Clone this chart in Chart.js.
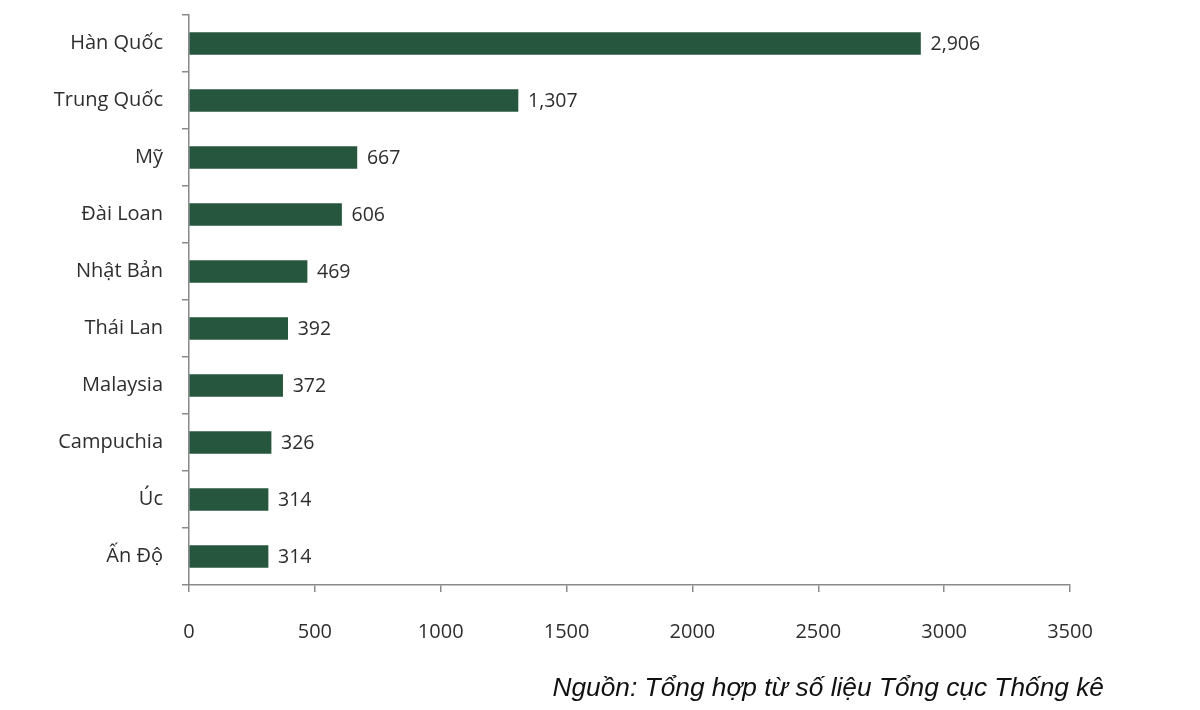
<!DOCTYPE html>
<html><head><meta charset="utf-8">
<script src="https://cdn.jsdelivr.net/npm/chart.js@4"></script>
<style>
html,body{margin:0;padding:0;background:#fff;}
#wrap{position:relative;width:1200px;height:710px;}
#src{position:absolute;right:96px;top:672px;font-family:"Liberation Sans",Arial,sans-serif;font-style:italic;font-size:26.3px;line-height:30px;color:#111;white-space:nowrap;}
</style></head>
<body>
<div id="wrap"><canvas id="c" width="1200" height="710"></canvas>
<div id="src">Nguồn: Tổng hợp từ số liệu Tổng cục Thống kê</div></div>
<script>
const categories = ["Hàn Quốc","Trung Quốc","Mỹ","Đài Loan","Nhật Bản","Thái Lan","Malaysia","Campuchia","Úc","Ấn Độ"];
const values = [2906,1307,667,606,469,392,372,326,314,314];
const xTicks = [0,500,1000,1500,2000,2500,3000,3500];

const FONT = "'Open Sans', sans-serif";
const labelPlugin = {
  id:'vals',
  afterDatasetsDraw(chart){
    const ctx = chart.ctx;
    const meta = chart.getDatasetMeta(0);
    ctx.save();
    ctx.font = "19.5px " + FONT;
    ctx.fillStyle = "#2e2e2e";
    ctx.textBaseline = "middle";
    ctx.textAlign = "left";
    meta.data.forEach((el,i)=>{
      ctx.fillText(values[i].toLocaleString('en-US'), el.x + 10, el.y + 1);
    });
    ctx.restore();
  }
};

new Chart(document.getElementById('c'), {
  type:'bar',
  data:{labels:categories, datasets:[{data:values, backgroundColor:'#26563e', borderColor:'#26563e', borderWidth:0, barThickness:22}]},
  options:{
    indexAxis:'y', responsive:false, animation:false,
    layout:{padding:{top:15,right:130,bottom:0,left:0}},
    plugins:{legend:{display:false}, tooltip:{enabled:false}},
    scales:{
      x:{min:0,max:3500,
        afterBuildTicks(s){ s.ticks = xTicks.map(v=>({value:v})); },
        afterFit(s){ s.height = 125; s.paddingLeft = 0; s.paddingRight = 0; },
        grid:{drawOnChartArea:false, tickLength:7, color:'#8a8a8a', lineWidth:1.5},
        border:{color:'#8a8a8a', width:1.5},
        ticks:{padding:28, color:'#2e2e2e', font:{family:FONT, size:20}, callback:(v)=>String(v)}
      },
      y:{
        afterFit(s){ s.width = 189; s.paddingTop = 0; s.paddingBottom = 0; },
        grid:{drawOnChartArea:false, offset:true, tickLength:7, color:'#8a8a8a', lineWidth:1.5},
        border:{color:'#8a8a8a', width:1.5},
        ticks:{padding:19, color:'#2e2e2e', font:{family:FONT, size:20}}
      }
    }
  },
  plugins:[labelPlugin]
});
</script>
</body></html>
